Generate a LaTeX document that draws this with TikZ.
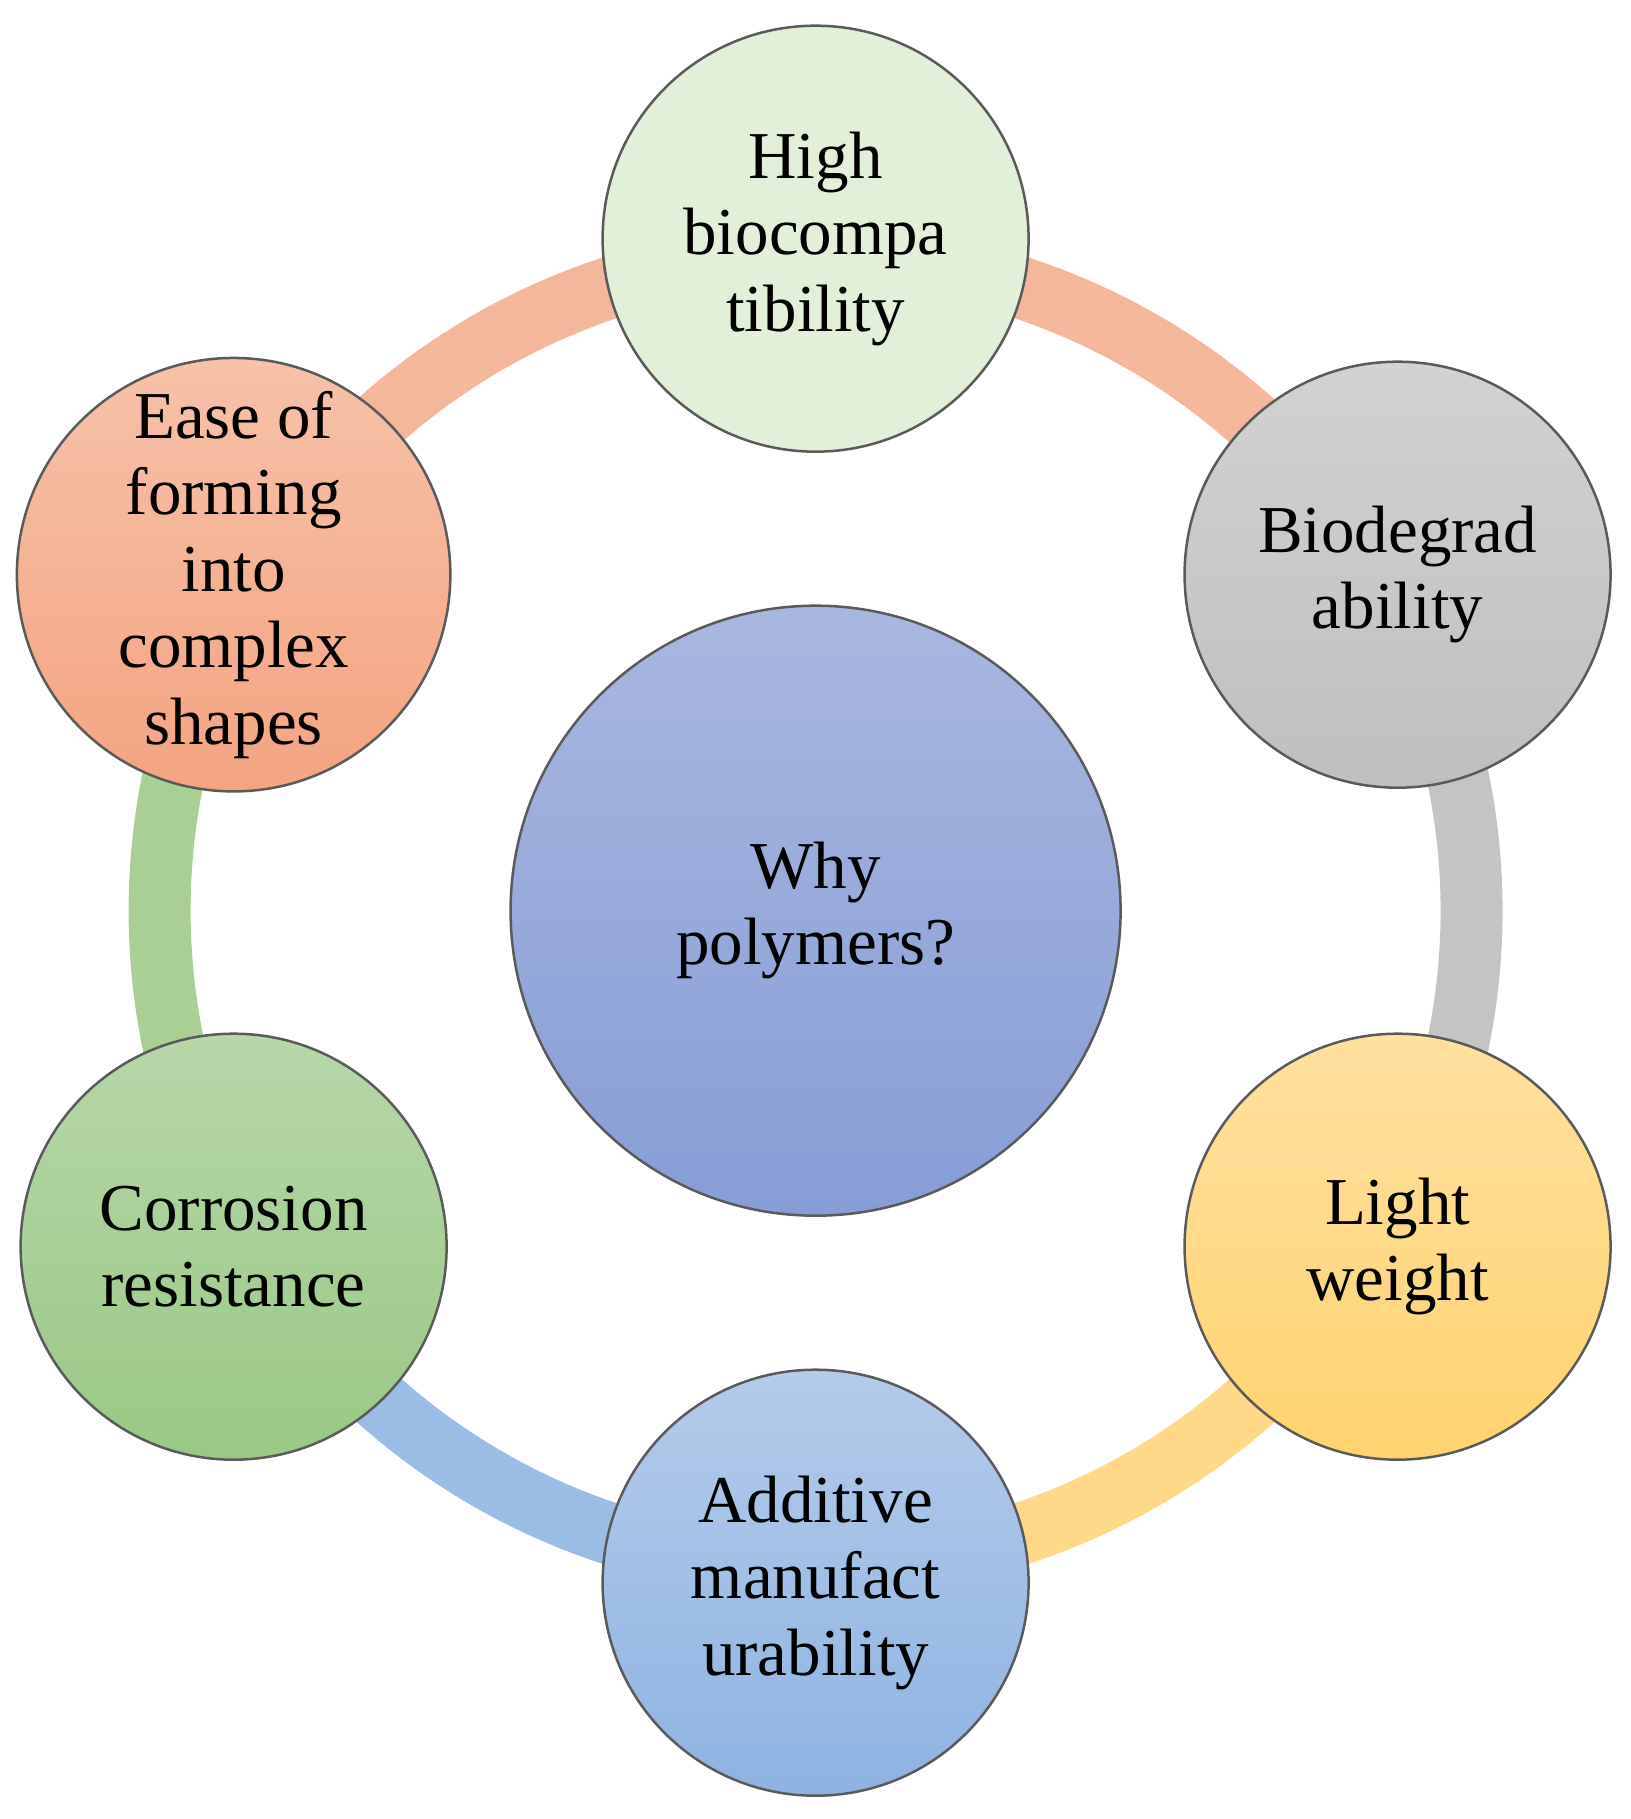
\documentclass[tikz,border=0pt]{standalone}
\usepackage{fontspec}
\setmainfont{Liberation Serif}
\definecolor{cenT}{HTML}{A9B7E0}
\definecolor{cenB}{HTML}{879DD6}
\definecolor{grnL}{HTML}{E2EFD9}
\definecolor{gryT}{HTML}{D2D2D2}
\definecolor{gryB}{HTML}{BFBFBF}
\definecolor{ylwT}{HTML}{FFE0A0}
\definecolor{ylwB}{HTML}{FED36F}
\definecolor{bluT}{HTML}{B4CBEA}
\definecolor{bluB}{HTML}{8EB3E2}
\definecolor{gnT}{HTML}{B7D7A9}
\definecolor{gnB}{HTML}{9AC885}
\definecolor{salT}{HTML}{F6C2A9}
\definecolor{salB}{HTML}{F4A481}
\definecolor{arcSal}{HTML}{F5B79C}
\definecolor{arcGry}{HTML}{C4C4C4}
\definecolor{arcYlw}{HTML}{FFD88A}
\definecolor{arcBlu}{HTML}{9BBCE4}
\definecolor{arcGrn}{HTML}{A9CF94}
\definecolor{rim}{HTML}{5A5A5A}
\tikzset{
  bubble/.style={circle, draw=rim, line width=2.5pt, minimum size=426pt, inner sep=0pt,
    align=center, font=\fontsize{67}{76.5}\selectfont},
  hub/.style={bubble, minimum size=610pt},
  ringarc/.style={line width=62pt, line cap=butt}
}
\begin{document}
\begin{tikzpicture}[x=1pt,y=1pt]
\useasboundingbox (-815.6,-908.3) rectangle (814.4,910.7);
\coordinate (o) at (0,0);
% ring segments
\draw[ringarc, arcSal] (150:656) arc[start angle=150, end angle=90, radius=656];
\draw[ringarc, arcSal] (90:656) arc[start angle=90, end angle=30, radius=656];
\draw[ringarc, arcGry] (30:656) arc[start angle=30, end angle=-30, radius=656];
\draw[ringarc, arcYlw] (-30:656) arc[start angle=-30, end angle=-90, radius=656];
\draw[ringarc, arcBlu] (-90:656) arc[start angle=-90, end angle=-150, radius=656];
\draw[ringarc, arcGrn] (-150:656) arc[start angle=-150, end angle=-210, radius=656];
% nodes
\node[hub, top color=cenT, bottom color=cenB] (why) at (o) {Why\\polymers?};
\node[bubble, fill=grnL] (bio) at (90:672) {High\\biocompa\\tibility};
\node[bubble, top color=gryT, bottom color=gryB] (deg) at (30:672) {Biodegrad\\ability};
\node[bubble, top color=ylwT, bottom color=ylwB] (lw) at (-30:672) {Light\\weight};
\node[bubble, top color=bluT, bottom color=bluB] (am) at (-90:672) {Additive\\manufact\\urability};
\node[bubble, top color=gnT, bottom color=gnB] (cr) at (-150:672) {Corrosion\\resistance};
\node[bubble, top color=salT, bottom color=salB] (ease) at (150:672) {Ease of\\forming\\into\\complex\\shapes};
\end{tikzpicture}
\end{document}
